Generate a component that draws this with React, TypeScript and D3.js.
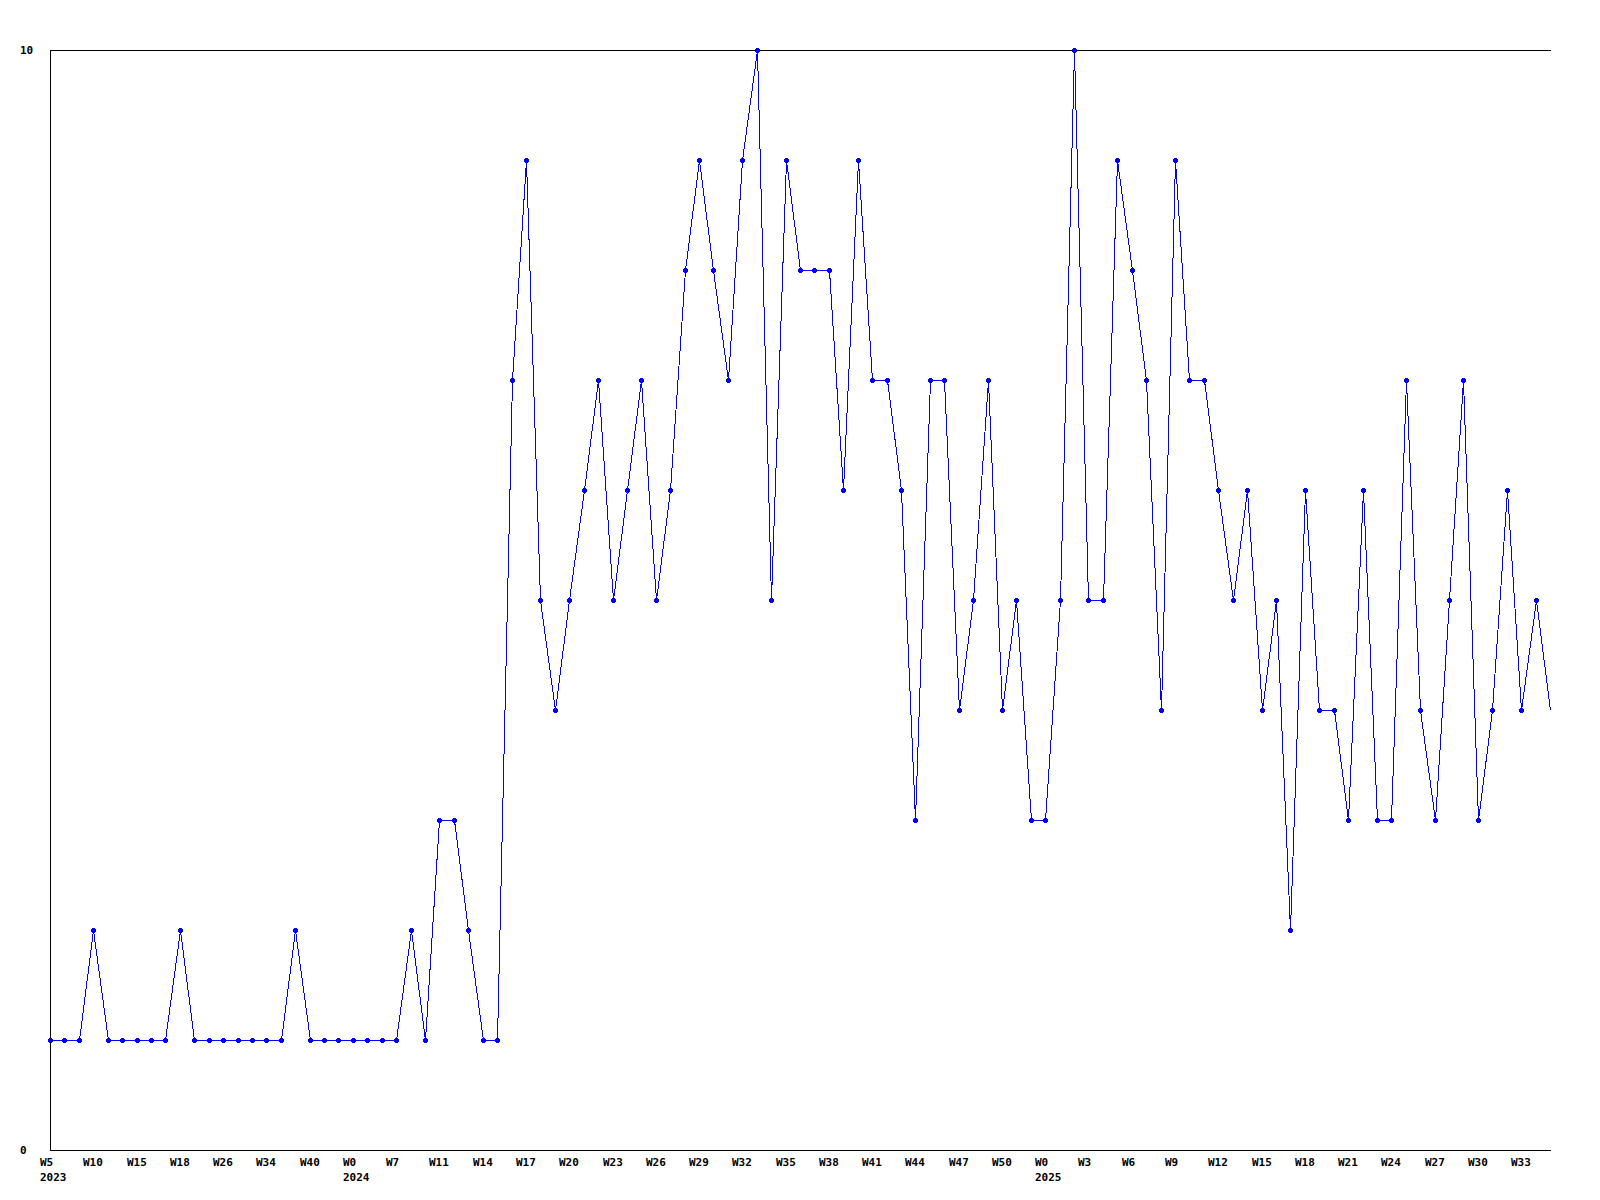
import React from "react";
import * as d3 from "d3";

const categories: string[] = [
  "2023 W5", "2023 W6", "2023 W8", "2023 W10", "2023 W12", "2023 W13", "2023 W15", "2023 W16", "2023 W17", "2023 W18",
  "2023 W20", "2023 W23", "2023 W26", "2023 W28", "2023 W31", "2023 W34", "2023 W36", "2023 W38", "2023 W40", "2023 W44",
  "2023 W48",
  "2024 W0", "2024 W2", "2024 W4", "2024 W7", "2024 W9", "2024 W10", "2024 W11", "2024 W12", "2024 W13", "2024 W14",
  "2024 W15", "2024 W16", "2024 W17", "2024 W18", "2024 W19", "2024 W20", "2024 W21", "2024 W22", "2024 W23", "2024 W24",
  "2024 W25", "2024 W26", "2024 W27", "2024 W28", "2024 W29", "2024 W30", "2024 W31", "2024 W32", "2024 W33", "2024 W34",
  "2024 W35", "2024 W36", "2024 W37", "2024 W38", "2024 W39", "2024 W40", "2024 W41", "2024 W42", "2024 W43", "2024 W44",
  "2024 W45", "2024 W46", "2024 W47", "2024 W48", "2024 W49", "2024 W50", "2024 W51", "2024 W52",
  "2025 W0", "2025 W1", "2025 W2", "2025 W3", "2025 W4", "2025 W5", "2025 W6", "2025 W7", "2025 W8", "2025 W9",
  "2025 W10", "2025 W11", "2025 W12", "2025 W13", "2025 W14", "2025 W15", "2025 W16", "2025 W17", "2025 W18", "2025 W19",
  "2025 W20", "2025 W21", "2025 W22", "2025 W23", "2025 W24", "2025 W25", "2025 W26", "2025 W27", "2025 W28", "2025 W29",
  "2025 W30", "2025 W31", "2025 W32", "2025 W33", "2025 W34", "2025 W35",
];

const values: number[] = [
  1, 1, 1, 2, 1, 1, 1, 1, 1, 2,
  1, 1, 1, 1, 1, 1, 1, 2, 1, 1,
  1, 1, 1, 1, 1, 2, 1, 3, 3, 2,
  1, 1, 7, 9, 5, 4, 5, 6, 7, 5,
  6, 7, 5, 6, 8, 9, 8, 7, 9, 10,
  5, 9, 8, 8, 8, 6, 9, 7, 7, 6,
  3, 7, 7, 4, 5, 7, 4, 5, 3, 3,
  5, 10, 5, 5, 9, 8, 7, 4, 9, 7,
  7, 6, 5, 6, 4, 5, 2, 6, 4, 4,
  3, 6, 3, 3, 7, 4, 3, 5, 7, 3,
  4, 6, 4, 5, 4,
];

const yTicks: number[] = [0, 10];
const tickEvery = 3;

const W = 1600;
const H = 1200;
const left = 50;
const right = 1550;
const top = 50;
const bottom = 1150;
const FONT = "'DejaVu Sans Mono', monospace";
const FS = 11;

export default function App() {
  const x = d3.scalePoint<string>().domain(categories).range([left, right]);
  const y = d3.scaleLinear().domain([0, 10]).range([bottom, top]);

  const pts = categories.map((c, i) => [Math.round(x(c) as number), Math.round(y(values[i]))] as [number, number]);
  const line = d3.line<[number, number]>().x((d) => d[0] + 0.5).y((d) => d[1] + 0.5);

  const ticks = categories
    .map((c, i) => ({ c, i }))
    .filter((d) => d.i % tickEvery === 0);

  return (
    <svg
      width={W}
      height={H}
      style={{ position: "absolute", left: 0, top: 0, background: "#fff" }}
    >
      <rect x={0} y={0} width={W} height={H} fill="#fff" />
      <g shapeRendering="crispEdges" stroke="#000" strokeWidth={1}>
        <line x1={left + 0.5} y1={top + 0.5} x2={left + 0.5} y2={bottom + 0.5} />
        <line x1={left} y1={bottom + 0.5} x2={right + 1} y2={bottom + 0.5} />
        <line x1={left} y1={top + 0.5} x2={right + 1} y2={top + 0.5} />
      </g>
      {yTicks.map((t) => (
        <text
          key={t}
          x={20}
          y={Math.round(y(t)) + 4}
          fontFamily={FONT}
          fontWeight="bold"
          fontSize={FS}
          fill="#000"
        >
          {t}
        </text>
      ))}
      {ticks.map(({ c, i }) => {
        const [yr, wk] = c.split(" ");
        const prevYr = i > 0 ? categories[i - 1].split(" ")[0] : null;
        const showYear = prevYr !== yr;
        const px = Math.round(x(c) as number) - 10;
        return (
          <g key={c}>
            <text x={px} y={1166} fontFamily={FONT} fontWeight="bold" fontSize={FS} fill="#000">
              {wk}
            </text>
            {showYear && (
              <text x={px} y={1181} fontFamily={FONT} fontWeight="bold" fontSize={FS} fill="#000">
                {yr}
              </text>
            )}
          </g>
        );
      })}
      <path d={line(pts) || ""} fill="none" stroke="#0000ff" strokeWidth={1} shapeRendering="crispEdges" />
      <g fill="#0000ff" shapeRendering="crispEdges">
        {pts.slice(0, pts.length - 1).map(([px, py], i) => (
          <g key={i}>
            <rect x={px - 2} y={py - 1} width={5} height={3} />
            <rect x={px - 1} y={py - 2} width={3} height={5} />
          </g>
        ))}
      </g>
    </svg>
  );
}
